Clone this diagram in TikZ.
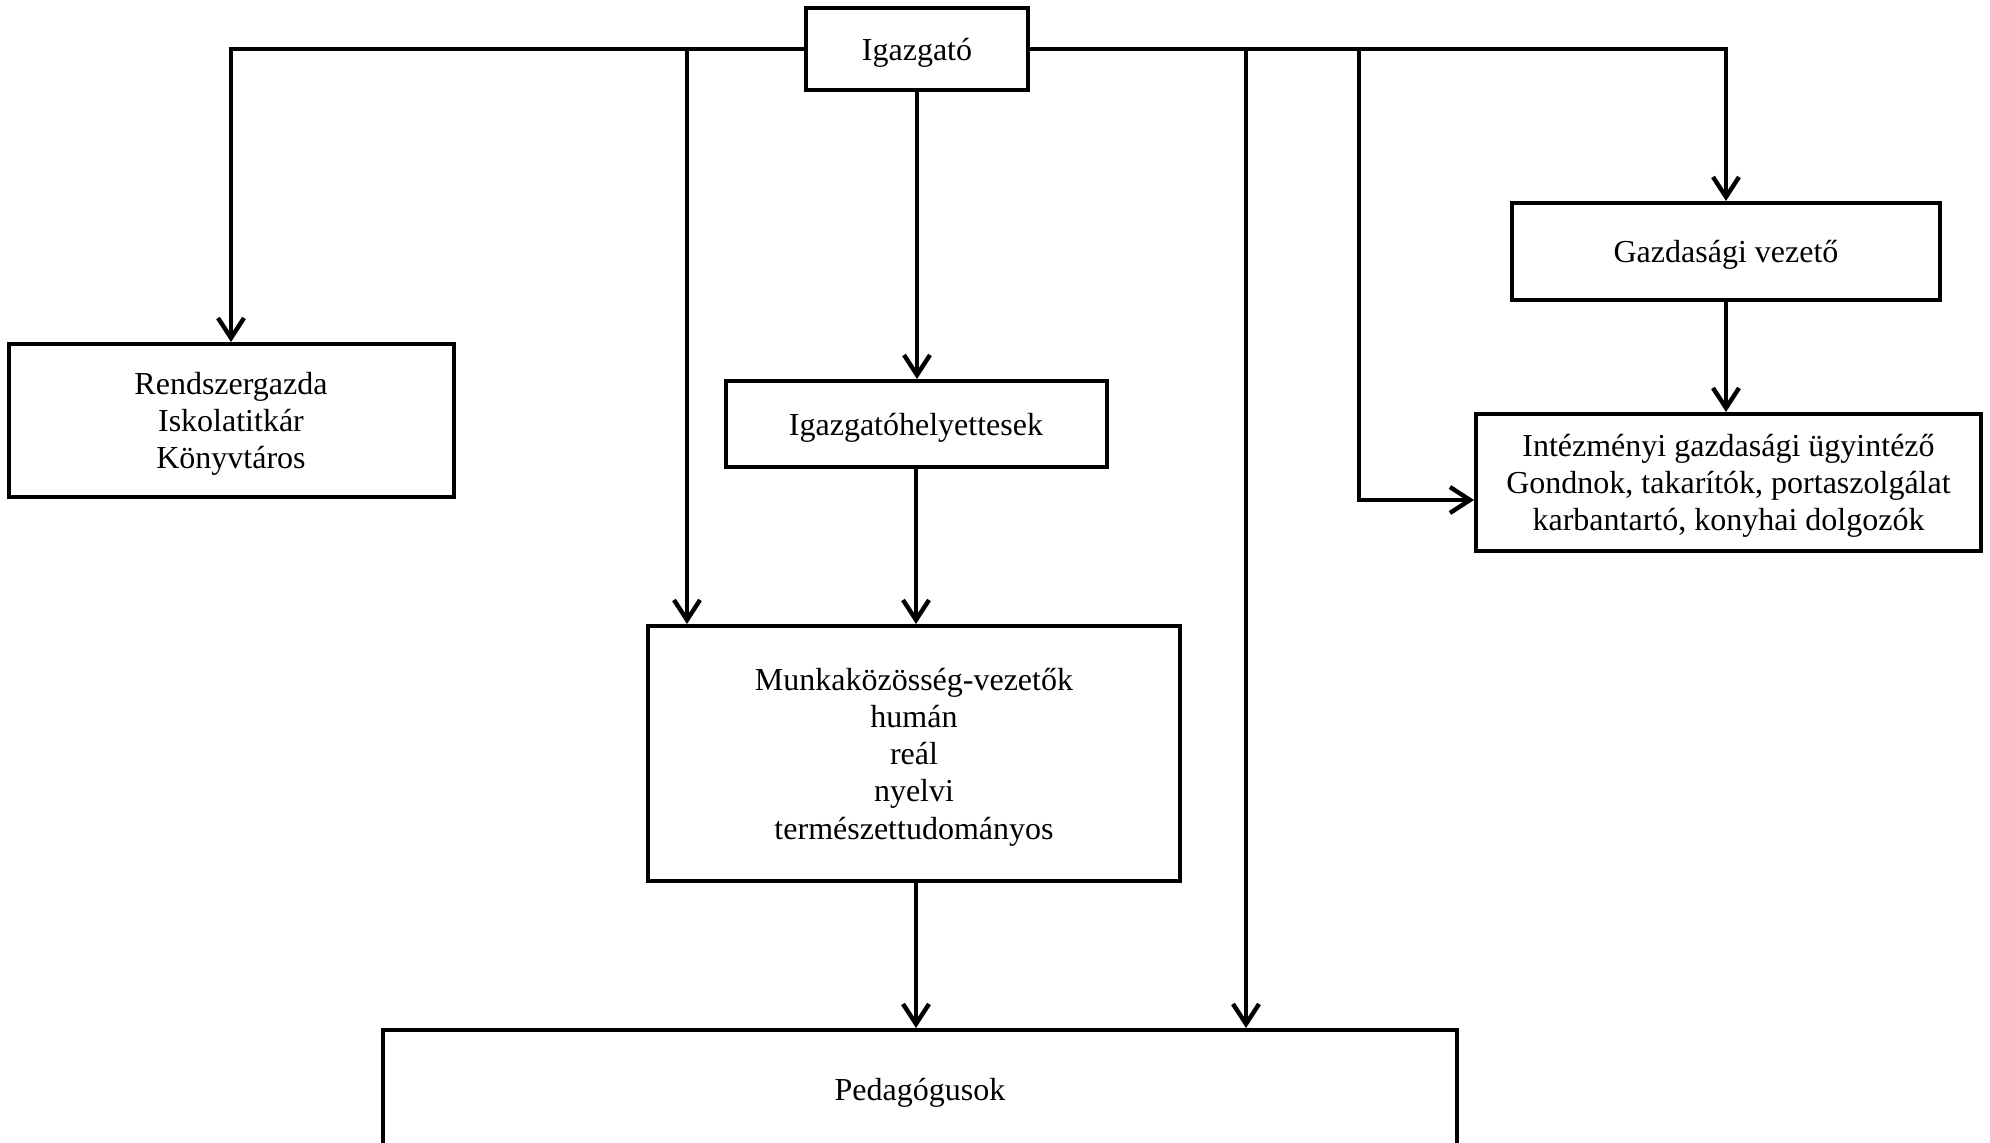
\documentclass[tikz,border=0pt]{standalone}
\usepackage{fontspec}
\setmainfont{Liberation Serif}
\usetikzlibrary{arrows.meta}

\begin{document}
\begin{tikzpicture}[
                x=0.5pt, y=-0.5pt,
                box/.style={draw, line width=2pt, align=center, inner sep=0pt, text depth=0pt,
                    font=\fontsize{16}{18.6}\selectfont},
                conn/.style={line width=2.2pt},
                arr/.style={conn, -{Straight Barb[length=10pt,width=13pt,line width=2.2pt]}}
            ]
                \clip (0,0) rectangle (1990,1143);

                \node [box, minimum width=111pt, minimum height=41pt] (igazgato) at (917,49) {Igazgató};
                \node [box, minimum width=222.5pt, minimum height=76.5pt] (rendszer) at (231,420.5)
                    {Rendszergazda\\Iskolatitkár\\Könyvtáros};
                \node [box, minimum width=190.5pt, minimum height=43pt] (helyettes) at (916,424) {Igazgatóhelyettesek};
                \node [box, minimum width=266pt, minimum height=127.5pt] (munkak) at (914,753.5)
                    {Munkaközösség-vezetők\\humán\\reál\\nyelvi\\természettudományos};
                \node [box, minimum width=537pt, minimum height=59pt] (pedagog) at (920,1089) {Pedagógusok};
                \node [box, minimum width=214pt, minimum height=48.5pt] (gazdvez) at (1726,251.5) {Gazdasági vezető};
                \node [box, minimum width=252.5pt, minimum height=68.5pt] (ugyint) at (1728.5,482.5)
                    {Intézményi gazdasági ügyintéző\\Gondnok, takarítók, portaszolgálat\\karbantartó, konyhai dolgozók};

                % branch points on the top line
                \coordinate (b1) at (687,49);
                \coordinate (b2) at (1246,49);
                \coordinate (b3) at (1359,49);

                \draw [arr] (igazgato.west) -| (rendszer.north);
                \draw [arr] (igazgato.east) -| (gazdvez.north);
                \draw [arr] (b1) -- (b1 |- munkak.north);
                \draw [arr] (b2) -- (b2 |- pedagog.north);
                \draw [arr] (b3) |- (ugyint.west |- 0,500);

                \draw [arr] (igazgato.south) -- (igazgato.south |- helyettes.north);
                \draw [arr] (helyettes.south) -- (helyettes.south |- munkak.north);
                \draw [arr] (munkak.south -| helyettes.south) -- (helyettes.south |- pedagog.north);
                \draw [arr] (gazdvez.south) -- (gazdvez.south |- ugyint.north);
            \end{tikzpicture}
\end{document}
